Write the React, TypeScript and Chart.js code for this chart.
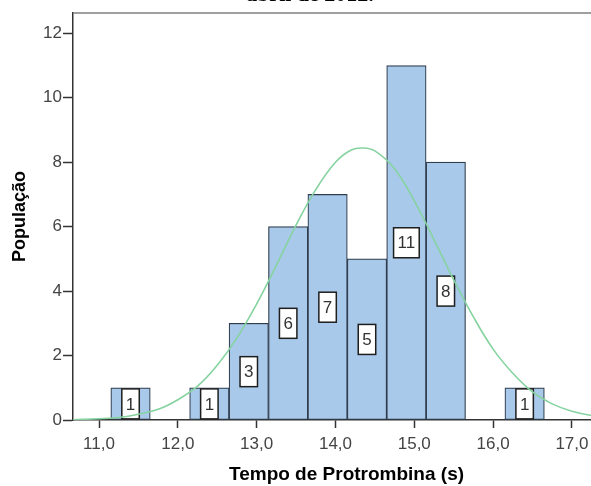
import React, { useEffect, useRef } from 'react';
import { Chart, registerables } from 'chart.js';

Chart.register(...registerables);

// ---- data ----
const titleText = 'abril de 2012.';
const xTitle = 'Tempo de Protrombina (s)';
const yTitle = 'População';

const binCenters = [11.4, 12.4, 12.9, 13.4, 13.9, 14.4, 14.9, 15.4, 16.4];
const counts = [1, 1, 3, 6, 7, 5, 11, 8, 1];

const curveX = [10.67, 11.0, 11.25, 11.5, 11.75, 12.0, 12.25, 12.5, 12.75, 13.0, 13.25, 13.5, 13.75, 14.0, 14.2, 14.35, 14.5, 14.75, 15.0, 15.25, 15.5, 15.75, 16.0, 16.25, 16.5, 16.75, 17.0, 17.25, 17.61];
const curveY = [0.01, 0.04, 0.08, 0.18, 0.33, 0.63, 1.05, 1.7, 2.55, 3.6, 4.8, 6.05, 7.15, 8.0, 8.38, 8.44, 8.35, 7.8, 6.8, 5.6, 4.35, 3.2, 2.2, 1.45, 0.87, 0.5, 0.27, 0.14, 0.05];

const xTicks = [11, 12, 13, 14, 15, 16, 17];
const yTicks = [0, 2, 4, 6, 8, 10, 12];

const X_MIN = 10.67;
const X_MAX = 17.61;
const Y_MAX = 12.63;

const SANS = '"Liberation Sans", Arial, sans-serif';

const framePlugin = {
  id: 'frame',
  beforeDatasetsDraw(chart: any) {
    const { ctx, chartArea } = chart;
    ctx.save();
    ctx.strokeStyle = '#808080';
    ctx.lineWidth = 1.5;
    ctx.beginPath();
    ctx.moveTo(chartArea.left, chartArea.top);
    ctx.lineTo(chartArea.right, chartArea.top);
    ctx.lineTo(chartArea.right, chartArea.bottom);
    ctx.stroke();
    ctx.restore();
  },
};

const boxPlugin = {
  id: 'countBoxes',
  afterDatasetDraw(chart: any, args: any) {
    if (args.index !== 0) return;
    const meta = chart.getDatasetMeta(0);
    const ys = chart.scales.y;
    const ctx = chart.ctx;
    ctx.save();
    ctx.font = '17px ' + SANS;
    ctx.textAlign = 'center';
    ctx.textBaseline = 'middle';
    meta.data.forEach((el: any, i: number) => {
      const txt = String(counts[i]);
      const w = ctx.measureText(txt).width + 8;
      const h = 30;
      const cx = el.x;
      const cy = ys.getPixelForValue(counts[i] / 2);
      ctx.fillStyle = '#ffffff';
      ctx.fillRect(cx - w / 2, cy - h / 2, w, h);
      ctx.lineWidth = 1.5;
      ctx.strokeStyle = '#1e1e1e';
      ctx.strokeRect(cx - w / 2, cy - h / 2, w, h);
      ctx.fillStyle = '#333333';
      ctx.fillText(txt, cx, cy + 1);
    });
    ctx.restore();
  },
};

export default function App() {
  const ref = useRef<HTMLCanvasElement | null>(null);

  useEffect(() => {
    if (!ref.current) return;
    const chart = new Chart(ref.current, {
      type: 'bar',
      data: {
        datasets: [
          {
            type: 'bar',
            data: binCenters.map((x, i) => ({ x, y: counts[i] })),
            backgroundColor: '#a9c9ea',
            borderColor: '#2f3d4c',
            borderWidth: 1.2,
            borderSkipped: false,
            barPercentage: 1,
            categoryPercentage: 1,
            order: 2,
          } as any,
          {
            type: 'line',
            data: curveX.map((x, i) => ({ x, y: curveY[i] })),
            borderColor: '#86d3a0',
            borderWidth: 1.6,
            pointRadius: 0,
            tension: 0.4,
            fill: false,
            order: 1,
          } as any,
        ],
      },
      options: {
        responsive: false,
        animation: false,
        devicePixelRatio: 1,
        events: [],
        layout: { padding: 0 },
        plugins: {
          legend: { display: false },
          tooltip: { enabled: false },
          title: {
            display: true,
            text: titleText,
            color: '#000',
            font: { family: '"Liberation Serif", "Times New Roman", serif', size: 22, weight: 'bold' },
            padding: { top: 0, bottom: 4.6 },
          },
        },
        scales: {
          x: {
            type: 'linear',
            min: X_MIN,
            max: X_MAX,
            offset: false,
            afterBuildTicks: (s: any) => {
              s.ticks = xTicks.map((v) => ({ value: v }));
            },
            afterFit: (s: any) => {
              s.height = 66;
            },
            grid: {
              offset: false,
              drawOnChartArea: false,
              drawTicks: true,
              tickLength: 8,
              tickWidth: 1.5,
              color: '#333',
            },
            border: { display: true, color: '#333', width: 1.5 },
            ticks: {
              autoSkip: false,
              maxRotation: 0,
              padding: 6,
              color: '#444',
              font: { family: SANS, size: 17 },
              callback: (v: any) => Number(v).toFixed(1).replace('.', ','),
            },
            title: {
              display: true,
              text: xTitle,
              color: '#000',
              font: { family: SANS, size: 19, weight: 'bold' },
              padding: { top: 0, bottom: 0 },
            },
          },
          y: {
            type: 'linear',
            min: 0,
            max: Y_MAX,
            afterBuildTicks: (s: any) => {
              s.ticks = yTicks.map((v) => ({ value: v }));
            },
            afterFit: (s: any) => {
              s.width = 73;
            },
            grid: {
              drawOnChartArea: false,
              drawTicks: true,
              tickLength: 10,
              tickWidth: 1.5,
              color: '#333',
            },
            border: { display: true, color: '#333', width: 1.5 },
            ticks: {
              padding: 1,
              color: '#444',
              font: { family: SANS, size: 17 },
              callback: (v: any) => String(v),
            },
            title: {
              display: true,
              text: yTitle,
              color: '#000',
              font: { family: SANS, size: 18, weight: 'bold' },
              padding: { top: 9, bottom: 0 },
            },
          },
        },
      } as any,
      plugins: [framePlugin, boxPlugin],
    });
    return () => chart.destroy();
  }, []);

  return (
    <div
      style={{
        position: 'fixed',
        left: 0,
        top: 0,
        width: 591,
        height: 486,
        overflow: 'hidden',
        background: '#fff',
      }}
    >
      <canvas
        ref={ref}
        width={620}
        height={504}
        style={{ position: 'absolute', left: 0, top: -18, display: 'block' }}
      />
    </div>
  );
}
